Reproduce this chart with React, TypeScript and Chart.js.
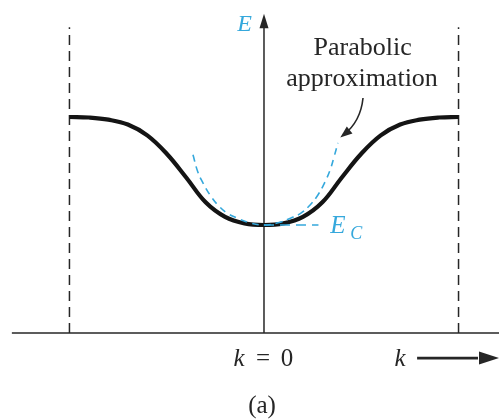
import { useEffect, useRef } from "react";
import { Chart, registerables } from "chart.js";

Chart.register(...registerables);

// Band curve E(k) (black), k in units of the zone edge
const bandK = [-1.0, -0.9, -0.8, -0.7, -0.6, -0.5, -0.4, -0.3, -0.2, -0.1, 0, 0.1, 0.2, 0.3, 0.4, 0.5, 0.6, 0.7, 0.8, 0.9, 1.0];
const bandE = [2.0, 1.995, 1.975, 1.93, 1.83, 1.66, 1.44, 1.21, 1.075, 1.015, 1.0, 1.015, 1.075, 1.21, 1.44, 1.66, 1.83, 1.93, 1.975, 1.995, 2.0];

// Parabolic approximation (blue dashed)
const parabK = [-0.365, -0.34, -0.314, -0.278, -0.237, -0.19, -0.139, -0.072, 0, 0.072, 0.139, 0.19, 0.237, 0.278, 0.314, 0.34, 0.36, 0.38];
const parabE = [1.65, 1.49, 1.39, 1.28, 1.185, 1.11, 1.065, 1.02, 1.0, 1.02, 1.065, 1.11, 1.185, 1.28, 1.4, 1.51, 1.63, 1.76];

// Conduction band edge E_C (blue dashed horizontal)
const ecK = [0, 0.28];
const ecE = [1.0, 1.0];

// Zone boundaries (dashed verticals)
const zoneK = [-1, 1];
const zoneTopE = 2.83;

// Axes extents
const kAxisK = [-1.296, 1.21];
const eAxisTop = 2.83;

// Texts
const eLabel = "E";
const noteLines = ["Parabolic", "approximation"];
const ecLabel = ["E", "C"];
const kZeroLabel = ["k", "=", "0"];
const kLabel = "k";
const captionLabel = "(a)";

const BLUE = "#35a8dc";
const INK = "#262626";

export default function App() {
  const ref = useRef<HTMLCanvasElement>(null);

  useEffect(() => {
    if (!ref.current) return;
    const pts = (ks: number[], es: number[]) => ks.map((k, i) => ({ x: k, y: es[i] }));

    const overlay = {
      id: "overlay",
      afterDatasetsDraw(chart: any) {
        const ctx = chart.ctx as CanvasRenderingContext2D;
        const xs = chart.scales.x;
        const ys = chart.scales.y;
        const X = (v: number) => xs.getPixelForValue(v);
        const Y = (v: number) => ys.getPixelForValue(v);
        ctx.save();

        // arrowhead on E axis
        const ax = X(0);
        const tipY = Y(2.955);
        const baseY = Y(eAxisTop) + 1;
        ctx.fillStyle = INK;
        ctx.beginPath();
        ctx.moveTo(ax, tipY);
        ctx.lineTo(ax - 4.5, baseY);
        ctx.lineTo(ax + 4.5, baseY);
        ctx.closePath();
        ctx.fill();

        // E label
        ctx.fillStyle = BLUE;
        ctx.font = "italic 24px 'Liberation Serif'";
        ctx.textAlign = "center";
        ctx.textBaseline = "alphabetic";
        ctx.fillText(eLabel, X(-0.1), Y(2.8));

        // Parabolic approximation note
        ctx.fillStyle = INK;
        ctx.font = "26px 'Liberation Serif'";
        ctx.fillText(noteLines[0], X(0.507), Y(2.575));
        ctx.fillText(noteLines[1], X(0.504), Y(2.29));

        // curved arrow
        ctx.strokeStyle = INK;
        ctx.lineWidth = 1.6;
        ctx.beginPath();
        const sx = X(0.509), sy = Y(2.176);
        const cx = X(0.497), cy = Y(1.96);
        const ex = X(0.41), ey = Y(1.835);
        ctx.moveTo(sx, sy);
        ctx.quadraticCurveTo(cx, cy, ex, ey);
        ctx.stroke();
        const ang = Math.atan2(ey - cy, ex - cx);
        const tx = X(0.392), ty = Y(1.81);
        ctx.beginPath();
        ctx.moveTo(tx, ty);
        ctx.lineTo(tx - 12 * Math.cos(ang) + 4.5 * Math.sin(ang), ty - 12 * Math.sin(ang) - 4.5 * Math.cos(ang));
        ctx.lineTo(tx - 12 * Math.cos(ang) - 4.5 * Math.sin(ang), ty - 12 * Math.sin(ang) + 4.5 * Math.cos(ang));
        ctx.closePath();
        ctx.fill();

        // E_C label
        ctx.fillStyle = BLUE;
        ctx.textAlign = "left";
        ctx.font = "italic 25px 'Liberation Serif'";
        ctx.fillText(ecLabel[0], X(0.34), Y(0.925));
        ctx.font = "italic 18px 'Liberation Serif'";
        ctx.fillText(ecLabel[1], X(0.443), Y(0.87));

        // k = 0 label
        ctx.fillStyle = INK;
        ctx.textAlign = "center";
        ctx.font = "italic 25px 'Liberation Serif'";
        ctx.fillText(kZeroLabel[0], X(-0.128), Y(-0.305));
        ctx.font = "25px 'Liberation Serif'";
        ctx.fillText(kZeroLabel[1], X(-0.005), Y(-0.305));
        ctx.fillText(kZeroLabel[2], X(0.118), Y(-0.305));

        // k arrow label
        ctx.font = "italic 25px 'Liberation Serif'";
        ctx.fillText(kLabel, X(0.699), Y(-0.305));
        const ay = Y(-0.232);
        ctx.lineWidth = 2.6;
        ctx.beginPath();
        ctx.moveTo(X(0.787), ay);
        ctx.lineTo(X(1.1), ay);
        ctx.stroke();
        const headTip = chart.chartArea.right;
        ctx.beginPath();
        ctx.moveTo(headTip, ay);
        ctx.lineTo(headTip - 20, ay - 6.5);
        ctx.lineTo(headTip - 20, ay + 6.5);
        ctx.closePath();
        ctx.fill();

        // caption
        ctx.font = "25px 'Liberation Serif'";
        ctx.fillText(captionLabel, X(-0.01), Y(-0.745));

        ctx.restore();
      },
    };

    const chart = new Chart(ref.current, {
      type: "scatter",
      data: {
        datasets: [
          {
            data: pts(parabK, parabE),
            showLine: true,
            borderColor: BLUE,
            borderWidth: 1.6,
            borderDash: [7, 5],
            pointRadius: 0,
            tension: 0.4,
            order: 0,
            clip: false,
          } as any,
          {
            data: pts(ecK, ecE),
            showLine: true,
            borderColor: BLUE,
            borderWidth: 1.6,
            borderDash: [10, 6],
            pointRadius: 0,
            order: 1,
            clip: false,
          },
          {
            data: pts(bandK, bandE),
            showLine: true,
            borderColor: "#141414",
            borderWidth: 4.2,
            pointRadius: 0,
            tension: 0.4,
            order: 2,
            clip: false,
          } as any,
          {
            data: pts(kAxisK, [0, 0]),
            showLine: true,
            borderColor: INK,
            borderWidth: 1.5,
            pointRadius: 0,
            order: 3,
            clip: false,
          },
          {
            data: pts([0, 0], [0, eAxisTop]),
            showLine: true,
            borderColor: INK,
            borderWidth: 1.5,
            pointRadius: 0,
            order: 3,
            clip: false,
          },
          {
            data: pts([zoneK[0], zoneK[0]], [0, zoneTopE]),
            showLine: true,
            borderColor: INK,
            borderWidth: 1.5,
            borderDash: [10, 6],
            pointRadius: 0,
            order: 4,
            clip: false,
          },
          {
            data: pts([zoneK[1], zoneK[1]], [0, zoneTopE]),
            showLine: true,
            borderColor: INK,
            borderWidth: 1.5,
            borderDash: [10, 6],
            pointRadius: 0,
            order: 4,
            clip: false,
          },
        ],
      },
      options: {
        animation: false,
        responsive: false,
        maintainAspectRatio: false,
        layout: { padding: 0 },
        plugins: { legend: { display: false }, tooltip: { enabled: false } },
        events: [],
        scales: {
          x: { type: "linear", min: -1.357, max: 1.208, display: false },
          y: { type: "linear", min: -0.796, max: 3.083, display: false },
        },
      },
      plugins: [overlay],
    });
    return () => chart.destroy();
  }, []);

  return (
    <div style={{ position: "absolute", left: 0, top: 0, width: 499, height: 419, background: "#fff" }}>
      <canvas ref={ref} width={499} height={419} style={{ display: "block" }} />
    </div>
  );
}
